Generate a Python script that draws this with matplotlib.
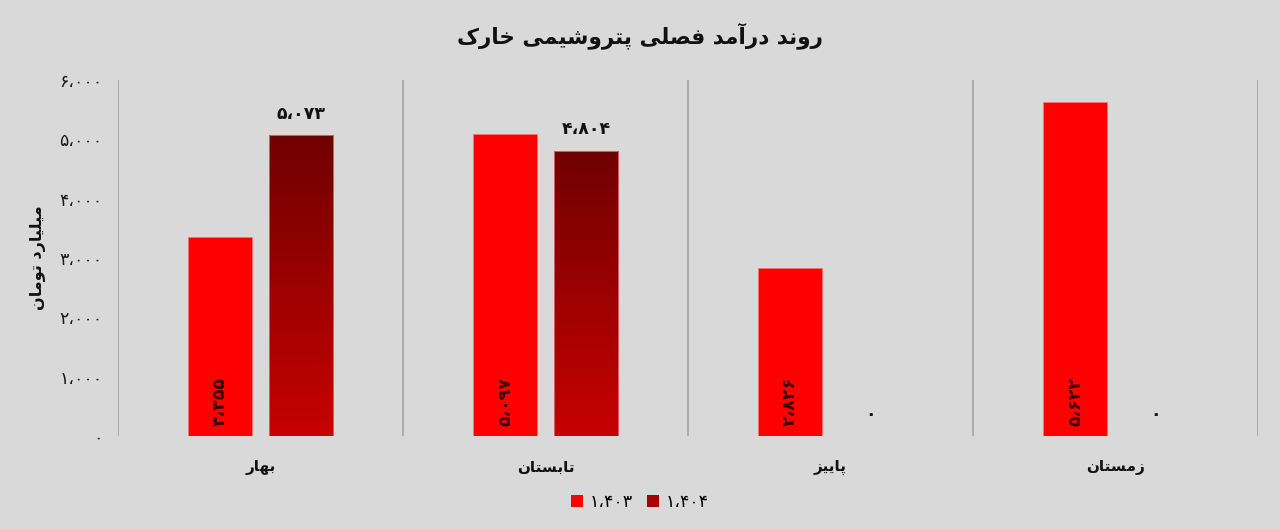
import matplotlib
matplotlib.use('Agg')
import matplotlib.pyplot as plt
import numpy as np
from matplotlib.patches import Patch

# data
seasons = ['بهار', 'تابستان', 'پاییز', 'زمستان']
series_names = ['1403', '1404']
rev_1403 = [3355, 5097, 2826, 5622]
rev_1404 = [5073, 4804, 0, 0]
y_ticks = [0, 1000, 2000, 3000, 4000, 5000, 6000]
title = 'روند درآمد فصلی پتروشیمی خارک'
y_label = 'میلیارد تومان'

# --- minimal Persian shaping (matplotlib has no bidi / joining) ---
FORMS = {
    # isolated, final, initial, medial
    'ا': (0xFE8D, 0xFE8E, None, None),
    'آ': (0xFE81, 0xFE82, None, None),
    'ب': (0xFE8F, 0xFE90, 0xFE91, 0xFE92),
    'پ': (0xFB56, 0xFB57, 0xFB58, 0xFB59),
    'ت': (0xFE95, 0xFE96, 0xFE97, 0xFE98),
    'خ': (0xFEA5, 0xFEA6, 0xFEA7, 0xFEA8),
    'د': (0xFEA9, 0xFEAA, None, None),
    'ر': (0xFEAD, 0xFEAE, None, None),
    'ز': (0xFEAF, 0xFEB0, None, None),
    'س': (0xFEB1, 0xFEB2, 0xFEB3, 0xFEB4),
    'ش': (0xFEB5, 0xFEB6, 0xFEB7, 0xFEB8),
    'ص': (0xFEB9, 0xFEBA, 0xFEBB, 0xFEBC),
    'ف': (0xFED1, 0xFED2, 0xFED3, 0xFED4),
    'ک': (0xFB8E, 0xFB8F, 0xFB90, 0xFB91),
    'ل': (0xFEDD, 0xFEDE, 0xFEDF, 0xFEE0),
    'م': (0xFEE1, 0xFEE2, 0xFEE3, 0xFEE4),
    'ن': (0xFEE5, 0xFEE6, 0xFEE7, 0xFEE8),
    'ه': (0xFEE9, 0xFEEA, 0xFEEB, 0xFEEC),
    'و': (0xFEED, 0xFEEE, None, None),
    'ی': (0xFBFC, 0xFBFD, 0xFBFE, 0xFBFF),
}


def fa(text):
    out = []
    for i, ch in enumerate(text):
        if ch not in FORMS:
            out.append(ch)
            continue
        prev = text[i - 1] if i > 0 else ''
        nxt = text[i + 1] if i + 1 < len(text) else ''
        join_prev = prev in FORMS and FORMS[prev][2] is not None
        join_next = nxt in FORMS and FORMS[ch][2] is not None
        iso, fin, ini, med = FORMS[ch]
        if join_prev and join_next:
            code = med
        elif join_prev:
            code = fin
        elif join_next:
            code = ini
        else:
            code = iso
        out.append(chr(code))
    return ''.join(out)[::-1]


def fa_num(v):
    s = '{:,}'.format(int(v)).replace(',', '،')
    return s.translate(str.maketrans('0123456789', '۰۱۲۳۴۵۶۷۸۹'))


plt.rcParams['font.family'] = ['DejaVu Sans']

bg = '#d9d9d9'
fig = plt.figure(figsize=(12.8, 5.29), dpi=100, facecolor=bg)
ax = fig.add_axes([118 / 1280, 1 - 436 / 529, 1140 / 1280, 356 / 529])
ax.set_facecolor(bg)

x = np.arange(len(seasons))
w = 0.225
off = 0.142

b1 = ax.bar(x - off, rev_1403, w, color='#ff0000', edgecolor='#ff7070', linewidth=0.6, zorder=3)
b2 = ax.bar(x + off, rev_1404, w, color='none', edgecolor='#e07070', linewidth=0.6, zorder=4)

# vertical gradient for the 1404 bars
grad = np.linspace(0, 1, 256).reshape(-1, 1)
cmap = matplotlib.colors.LinearSegmentedColormap.from_list('dr', ['#c80000', '#700000'])
for bar in b2:
    h = bar.get_height()
    if h <= 0:
        continue
    x0 = bar.get_x()
    im = ax.imshow(grad, cmap=cmap, aspect='auto', origin='lower',
                   extent=(x0, x0 + bar.get_width(), 0, h), zorder=3.5)
    im.set_clip_path(bar)

ax.set_xlim(-0.5, len(seasons) - 0.5)
ax.set_ylim(0, 6000)

# category separators
for sx in np.arange(-0.5, len(seasons), 1.0):
    ax.axvline(sx, color='#ababab', linewidth=1.4, zorder=1)

for s in ax.spines.values():
    s.set_visible(False)

ax.set_yticks(y_ticks)
ax.set_yticklabels([fa_num(t) for t in y_ticks], fontsize=12.5, color='#1a1a1a')
ax.tick_params(axis='y', length=0, pad=11)
ax.set_xticks(x)
ax.set_xticklabels([fa(s) for s in seasons], fontsize=11, fontweight='bold', color='#111111')
ax.tick_params(axis='x', length=0, pad=17)

# value labels
for xi, v in zip(x, rev_1403):
    ax.annotate(fa_num(v), (xi - off, 0), xytext=(0, 7), textcoords='offset points',
                rotation=90, ha='center', va='bottom', fontsize=12.5,
                fontweight='bold', color='#3a0000', zorder=6)
for xi, v in zip(x, rev_1404):
    ax.annotate(fa_num(v), (xi + off, v), xytext=(0, 9), textcoords='offset points',
                ha='center', va='bottom', fontsize=12.5, fontweight='bold',
                color='#111111', zorder=6)

fig.text(0.5, 1 - 36 / 529, fa(title), ha='center', va='center',
         fontsize=15.5, fontweight='bold', color='#111111')
fig.text(38 / 1280, 1 - 258 / 529, fa(y_label), ha='center', va='center',
         rotation=90, fontsize=11.5, fontweight='bold', color='#111111')

handles = [Patch(facecolor='#ff0000', edgecolor='none'),
           Patch(facecolor='#a80000', edgecolor='none')]
fig.legend(handles, [fa_num(n) for n in series_names], loc='center',
           bbox_to_anchor=(0.5, 1 - 502 / 529), ncol=2, frameon=False,
           fontsize=12.5, handlelength=0.7, handleheight=0.7,
           handletextpad=0.4, columnspacing=0.8)

fig.savefig('out.png', dpi=100, facecolor=bg)
